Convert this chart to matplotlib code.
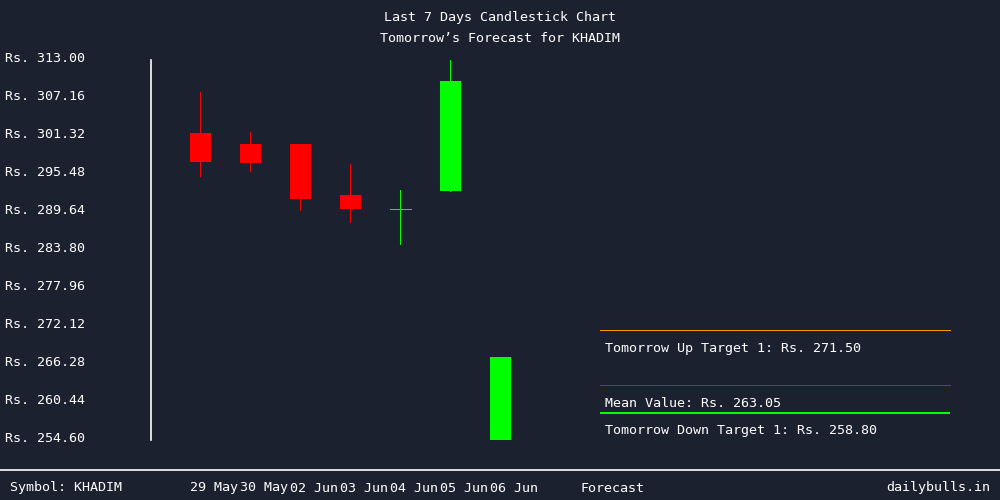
import matplotlib
matplotlib.use("Agg")
import matplotlib.pyplot as plt
import matplotlib.transforms as mtransforms

# ---- data ----
dates = ["29 May", "30 May", "02 Jun", "03 Jun", "04 Jun", "05 Jun", "06 Jun"]
opens = [301.78, 300.09, 300.09, 292.25, 290.06, 292.87]
highs = [308.08, 301.93, 300.09, 297.02, 293.02, 313.00]
lows = [295.22, 295.94, 290.00, 288.15, 284.77, 292.87]
closes = [297.32, 297.17, 291.64, 290.10, 290.06, 309.77]
forecast_low = 254.60
forecast_high = 267.36
up_target = 271.50
mean_value = 263.05
down_target = 258.80
ytick_values = [313.00, 307.16, 301.32, 295.48, 289.64, 283.80, 277.96, 272.12, 266.28, 260.44, 254.60]
symbol = "KHADIM"

BG = "#1c2130"
FONT = "DejaVu Sans Mono"
FS = 9.6
LW = 0.72  # one pixel at 100 dpi

fig = plt.figure(figsize=(10, 5), dpi=100, facecolor=BG)
ax = fig.add_axes([0.151, 0.12, 0.8, 0.76])
ax.set_facecolor(BG)
ax.patch.set_alpha(0)
ax.set_xlim(-0.98, 15.02)
ax.set_ylim(254.6, 313.0)
for s in ["top", "right", "bottom"]:
    ax.spines[s].set_visible(False)
ax.spines["left"].set_color("white")
ax.spines["left"].set_linewidth(1.2)
ax.set_xticks([])
ax.set_yticks([])

bw = 0.42
for i in range(len(opens)):
    o, h, l, c = opens[i], highs[i], lows[i], closes[i]
    col = "#00ff00" if c >= o else "#ff0000"
    ax.vlines(i, l, h, color=col, lw=LW, antialiased=False)
    if abs(c - o) < 0.05:
        ax.hlines(o, i - bw / 2, i + bw / 2, color=col, lw=LW, antialiased=False)
    else:
        ax.bar(i, abs(c - o), bottom=min(o, c), width=bw, color=col, lw=0)

# forecast bar
fi = len(opens)
ax.bar(fi, forecast_high - forecast_low, bottom=forecast_low, width=bw, color="#00ff00", lw=0)

# target lines
ax.hlines(up_target, 8, 15, color="#ff9900", lw=LW, clip_on=False, antialiased=False)
ax.hlines(mean_value, 8, 15, color="#ff0000", lw=LW, clip_on=False, antialiased=False)
ax.hlines(down_target, 8, 15, color="#00ff00", lw=LW * 1.5, clip_on=False, antialiased=False)
for val, txt in [(up_target, f"Tomorrow Up Target 1: Rs. {up_target:.2f}"),
                 (mean_value, f"Mean Value: Rs. {mean_value:.2f}"),
                 (down_target, f"Tomorrow Down Target 1: Rs. {down_target:.2f}")]:
    ax.annotate(txt, (8.1, val), xytext=(0, -18), textcoords="offset pixels",
                ha="left", va="center", color="white", family=FONT, fontsize=FS,
                annotation_clip=False)

# y tick labels
trans = mtransforms.blended_transform_factory(fig.transFigure, ax.transData)
for v in ytick_values:
    ax.annotate(f"Rs. {v:.2f}", (0.005, v), xycoords=trans, xytext=(0, 1.5),
                textcoords="offset pixels", ha="left", va="center",
                color="white", family=FONT, fontsize=FS, annotation_clip=False)

# title
fig.text(0.5, 1 - 18 / 500, "Last 7 Days Candlestick Chart", ha="center", va="center",
         color="white", family=FONT, fontsize=FS)
fig.text(0.5, 1 - 38 / 500, f"Tomorrow\u2019s Forecast for {symbol}", ha="center", va="center",
         color="white", family=FONT, fontsize=FS)

# footer
fig.add_artist(plt.Line2D([0, 1], [1 - 470 / 500] * 2, color="white", lw=1.2,
                          transform=fig.transFigure))
fy = 1 - 488 / 500
fig.text(0.010, fy, f"Symbol: {symbol}", ha="left", va="center", color="white",
         family=FONT, fontsize=FS)
transx = mtransforms.blended_transform_factory(ax.transData, fig.transFigure)
for i, d in enumerate(dates):
    ax.text(i - 0.2, fy, d, transform=transx, ha="left", va="center", color="white",
            family=FONT, fontsize=FS)
fig.text(0.580, fy, "Forecast", ha="left", va="center", color="white",
         family=FONT, fontsize=FS)
fig.text(0.886, fy, "dailybulls.in", ha="left", va="center", color="white",
         family=FONT, fontsize=FS)

fig.savefig("out.png", dpi=100, facecolor=BG)
